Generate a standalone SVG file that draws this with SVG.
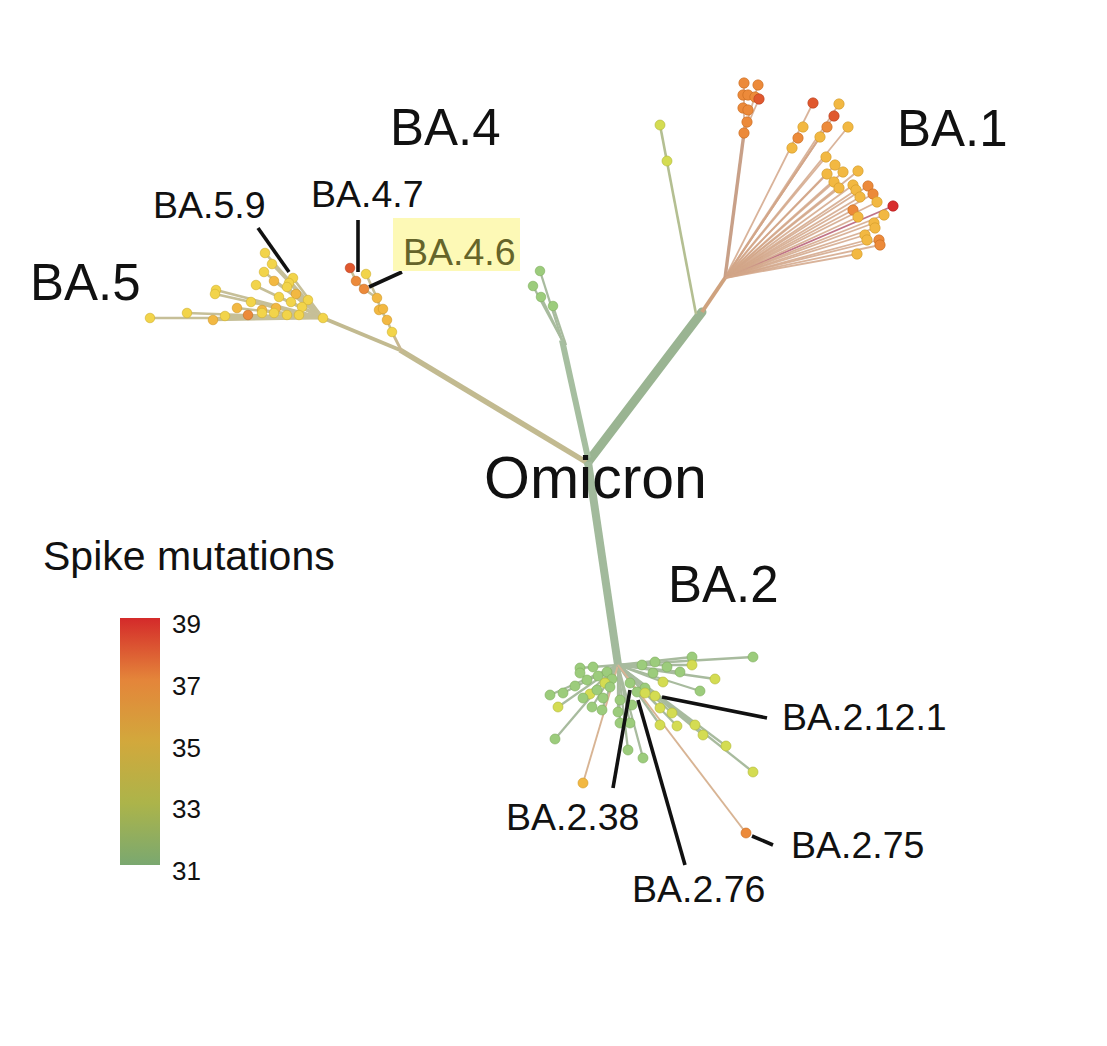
<svg xmlns="http://www.w3.org/2000/svg" width="1107" height="1046" viewBox="0 0 1107 1046">
<defs>
<linearGradient id="legendGrad" x1="0" y1="0" x2="0" y2="1">
<stop offset="0" stop-color="#d42a2a"/>
<stop offset="0.25" stop-color="#e4853a"/>
<stop offset="0.5" stop-color="#d2a83c"/>
<stop offset="0.75" stop-color="#acb44a"/>
<stop offset="1" stop-color="#7aa870"/>
</linearGradient>
<style>
text{font-family:"Liberation Sans",Arial,sans-serif;fill:#111}
.big{font-size:51px}
.omi{font-size:59px}
.lab{font-size:37.5px}
.leg{font-size:26px}
.tt{font-size:41px}
.b1{stroke:#d2a688;stroke-width:1.8;stroke-opacity:0.85;fill:none}
.b5{stroke:#c6bf98;stroke-width:2.6;fill:none}
.b2{stroke:#a8bb9e;stroke-width:2.3;fill:none}
.ldr{stroke:#111;stroke-width:3.6;fill:none}
circle{stroke-width:1;stroke-opacity:0.6}
.o{fill:#ec8a3a;stroke:#c86a20}
.y{fill:#f2b842;stroke:#d09a28}
.r{fill:#e0582e;stroke:#b84020}
.rd{fill:#d82e2e;stroke:#b01818}
.ye{fill:#f2d44a;stroke:#d0b030}
.g{fill:#9ccc7c;stroke:#7eae5e}
.yg{fill:#d4dc52;stroke:#b0b838}
</style>
</defs>
<rect width="1107" height="1046" fill="#ffffff"/>

<g id="connectors">
<line x1="588" y1="462" x2="702" y2="312" stroke="#9ab492" stroke-width="9" stroke-linecap="round"/>
<line x1="702" y1="312" x2="725" y2="278" stroke="#cfa27e" stroke-width="4"/>
<line x1="696" y1="314" x2="660" y2="125" stroke="#b4bf92" stroke-width="2.6"/>
<line x1="725" y1="278" x2="744" y2="133" stroke="#c8a088" stroke-width="3.4"/>
<line x1="744" y1="133" x2="744" y2="83" class="b1"/>
<line x1="744" y1="133" x2="758" y2="85" class="b1"/>
<line x1="744" y1="133" x2="759" y2="99" class="b1"/>
<line x1="586" y1="462" x2="400" y2="350" stroke="#c2ba90" stroke-width="5.5"/>
<line x1="400" y1="350" x2="323" y2="318" stroke="#c2ba90" stroke-width="4"/>
<line x1="402" y1="352" x2="392" y2="332" stroke="#c8b890" stroke-width="2.8"/>
<polyline points="392,332 387,320 381,310 377,298 364,289 356,281 350,268" class="b5"/>
<line x1="377" y1="298" x2="366" y2="274" class="b5"/>
<line x1="588" y1="458" x2="562" y2="340" stroke="#a6bea0" stroke-width="6"/>
<line x1="562" y1="340" x2="540" y2="271" class="b2" stroke-width="2.4"/>
<line x1="562" y1="340" x2="533" y2="286" class="b2" stroke-width="2.4"/>
<line x1="562" y1="340" x2="541" y2="297" class="b2" stroke-width="2.4"/>
<line x1="566" y1="345" x2="553" y2="306" class="b2" stroke-width="2.4"/>
<line x1="588" y1="462" x2="618" y2="665" stroke="#a2ba9c" stroke-width="8"/>

<g>
<line x1="725" y1="278" x2="813" y2="103" class="b1"/>
<line x1="725" y1="278" x2="839" y2="104" class="b1"/>
<line x1="725" y1="278" x2="834" y2="116" class="b1"/>
<line x1="725" y1="278" x2="848" y2="127" class="b1"/>
<line x1="725" y1="278" x2="827" y2="127" class="b1"/>
<line x1="725" y1="278" x2="820" y2="137" class="b1"/>
<line x1="725" y1="278" x2="826" y2="157" class="b1"/>
<line x1="725" y1="278" x2="835" y2="165" class="b1"/>
<line x1="725" y1="278" x2="827" y2="174" class="b1"/>
<line x1="725" y1="278" x2="843" y2="172" class="b1"/>
<line x1="725" y1="278" x2="858" y2="171" class="b1"/>
<line x1="725" y1="278" x2="834" y2="182" class="b1"/>
<line x1="725" y1="278" x2="839" y2="188" class="b1"/>
<line x1="725" y1="278" x2="853" y2="185" class="b1"/>
<line x1="725" y1="278" x2="868" y2="186" class="b1"/>
<line x1="725" y1="278" x2="856" y2="190" class="b1"/>
<line x1="725" y1="278" x2="873" y2="194" class="b1"/>
<line x1="725" y1="278" x2="860" y2="197" class="b1"/>
<line x1="725" y1="278" x2="877" y2="202" class="b1"/>
<line x1="725" y1="278" x2="893" y2="206" stroke="#c07488" stroke-width="1.8"/>
<line x1="725" y1="278" x2="853" y2="210" class="b1"/>
<line x1="725" y1="278" x2="858" y2="217" class="b1"/>
<line x1="725" y1="278" x2="884" y2="215" class="b1"/>
<line x1="725" y1="278" x2="874" y2="223" class="b1"/>
<line x1="725" y1="278" x2="875" y2="228" class="b1"/>
<line x1="725" y1="278" x2="865" y2="235" class="b1"/>
<line x1="725" y1="278" x2="879" y2="240" class="b1"/>
<line x1="725" y1="278" x2="867" y2="240" class="b1"/>
<line x1="725" y1="278" x2="880" y2="245" class="b1"/>
<line x1="725" y1="278" x2="857" y2="254" class="b1"/>
</g>

<g>
<line x1="323" y1="318" x2="265" y2="253" class="b5"/>
<line x1="323" y1="318" x2="272" y2="264" class="b5"/>
<line x1="323" y1="318" x2="264" y2="272" class="b5"/>
<line x1="323" y1="318" x2="274" y2="281" class="b5"/>
<line x1="323" y1="318" x2="293" y2="278" class="b5"/>
<line x1="323" y1="318" x2="289" y2="283" class="b5"/>
<line x1="323" y1="318" x2="256" y2="286" class="b5"/>
<line x1="323" y1="318" x2="287" y2="287" class="b5"/>
<line x1="323" y1="318" x2="296" y2="294" class="b5"/>
<line x1="323" y1="318" x2="279" y2="297" class="b5"/>
<line x1="323" y1="318" x2="216" y2="290" class="b5"/>
<line x1="323" y1="318" x2="215" y2="294" class="b5"/>
<line x1="323" y1="318" x2="308" y2="300" class="b5"/>
<line x1="323" y1="318" x2="291" y2="302" class="b5"/>
<line x1="323" y1="318" x2="251" y2="302" class="b5"/>
<line x1="323" y1="318" x2="302" y2="307" class="b5"/>
<line x1="323" y1="318" x2="237" y2="308" class="b5"/>
<line x1="323" y1="318" x2="262" y2="310" class="b5"/>
<line x1="323" y1="318" x2="276" y2="308" class="b5"/>
<line x1="323" y1="318" x2="248" y2="315" class="b5"/>
<line x1="323" y1="318" x2="274" y2="313" class="b5"/>
<line x1="323" y1="318" x2="287" y2="315" class="b5"/>
<line x1="323" y1="318" x2="299" y2="315" class="b5"/>
<line x1="323" y1="318" x2="225" y2="316" class="b5"/>
<line x1="323" y1="318" x2="213" y2="320" class="b5"/>
<line x1="323" y1="318" x2="187" y2="313" class="b5"/>
<line x1="323" y1="318" x2="150" y2="318" class="b5"/>
</g>

<g>
<line x1="618" y1="665" x2="753" y2="657" class="b2"/>
<line x1="618" y1="665" x2="692" y2="657" class="b2"/>
<line x1="618" y1="665" x2="692" y2="665" class="b2"/>
<line x1="618" y1="665" x2="715" y2="679" class="b2"/>
<line x1="618" y1="665" x2="700" y2="691" class="b2"/>
<line x1="618" y1="665" x2="680" y2="672" class="b2"/>
<line x1="618" y1="665" x2="663" y2="682" class="b2"/>
<line x1="618" y1="665" x2="645" y2="688" class="b2"/>
<line x1="618" y1="665" x2="580" y2="668" class="b2"/>
<line x1="618" y1="665" x2="587" y2="680" class="b2"/>
<line x1="618" y1="665" x2="550" y2="695" class="b2"/>
<line x1="618" y1="665" x2="563" y2="693" class="b2"/>
<line x1="618" y1="665" x2="558" y2="707" class="b2"/>
<line x1="618" y1="665" x2="583" y2="698" class="b2"/>
<line x1="618" y1="665" x2="592" y2="707" class="b2"/>
<line x1="618" y1="665" x2="602" y2="710" class="b2"/>
<line x1="618" y1="665" x2="618" y2="712" class="b2"/>
<line x1="618" y1="665" x2="620" y2="723" class="b2"/>
<line x1="618" y1="665" x2="630" y2="723" class="b2"/>
<line x1="618" y1="665" x2="628" y2="750" class="b2"/>
<line x1="618" y1="665" x2="643" y2="758" class="b2"/>
<line x1="618" y1="665" x2="555" y2="739" class="b2"/>
<line x1="618" y1="665" x2="583" y2="783" stroke="#d8b494" stroke-width="1.9"/>
<line x1="618" y1="665" x2="660" y2="708" class="b2"/>
<line x1="618" y1="665" x2="672" y2="713" class="b2"/>
<line x1="618" y1="665" x2="660" y2="725" class="b2"/>
<line x1="618" y1="665" x2="677" y2="726" class="b2"/>
<line x1="618" y1="665" x2="695" y2="725" class="b2"/>
<line x1="618" y1="665" x2="703" y2="735" class="b2"/>
<line x1="618" y1="665" x2="726" y2="746" class="b2"/>
<line x1="618" y1="665" x2="753" y2="772" class="b2"/>
<line x1="618" y1="665" x2="746" y2="833" stroke="#d8b494" stroke-width="1.9"/>
</g>
</g>

<g id="clade-ba1-tips">
<circle cx="660" cy="125" r="5" class="yg"/>
<circle cx="667" cy="161" r="5" class="yg"/>
<circle cx="744" cy="83" r="5.2" class="o"/>
<circle cx="758" cy="85" r="5.2" class="o"/>
<circle cx="743" cy="95" r="5.2" class="o"/>
<circle cx="748" cy="95" r="5.2" class="o"/>
<circle cx="755" cy="97" r="5.2" class="o"/>
<circle cx="759" cy="99" r="5.2" class="r"/>
<circle cx="743" cy="108" r="5.2" class="o"/>
<circle cx="748" cy="110" r="5.2" class="o"/>
<circle cx="747" cy="122" r="5.2" class="o"/>
<circle cx="744" cy="133" r="5.2" class="o"/>
<circle cx="813" cy="103" r="5.2" class="r"/>
<circle cx="839" cy="104" r="5.2" class="y"/>
<circle cx="834" cy="116" r="5.2" class="r"/>
<circle cx="848" cy="127" r="5.2" class="y"/>
<circle cx="803" cy="127" r="5.2" class="y"/>
<circle cx="827" cy="127" r="5.2" class="o"/>
<circle cx="798" cy="138" r="5.2" class="o"/>
<circle cx="820" cy="137" r="5.2" class="y"/>
<circle cx="792" cy="148" r="5.2" class="y"/>
<circle cx="826" cy="157" r="5.2" class="y"/>
<circle cx="835" cy="165" r="5.2" class="y"/>
<circle cx="827" cy="174" r="5.2" class="y"/>
<circle cx="843" cy="172" r="5.2" class="y"/>
<circle cx="858" cy="171" r="5.2" class="y"/>
<circle cx="834" cy="182" r="5.2" class="y"/>
<circle cx="839" cy="188" r="5.2" class="y"/>
<circle cx="853" cy="185" r="5.2" class="y"/>
<circle cx="868" cy="186" r="5.2" class="o"/>
<circle cx="856" cy="190" r="5.2" class="y"/>
<circle cx="873" cy="194" r="5.2" class="o"/>
<circle cx="860" cy="197" r="5.2" class="y"/>
<circle cx="877" cy="202" r="5.2" class="y"/>
<circle cx="893" cy="206" r="5.2" class="rd"/>
<circle cx="853" cy="210" r="5.2" class="o"/>
<circle cx="858" cy="217" r="5.2" class="y"/>
<circle cx="884" cy="215" r="5.2" class="y"/>
<circle cx="874" cy="223" r="5.2" class="y"/>
<circle cx="875" cy="228" r="5.2" class="y"/>
<circle cx="865" cy="235" r="5.2" class="y"/>
<circle cx="879" cy="240" r="5.2" class="o"/>
<circle cx="867" cy="240" r="5.2" class="y"/>
<circle cx="880" cy="245" r="5.2" class="o"/>
<circle cx="857" cy="254" r="5.2" class="y"/>
</g>

<g id="clade-ba4-tips">
<circle cx="350" cy="268" r="4.8" class="r"/>
<circle cx="366" cy="274" r="4.8" class="ye"/>
<circle cx="356" cy="281" r="4.8" class="o"/>
<circle cx="364" cy="289" r="4.8" class="o"/>
<circle cx="377" cy="298" r="4.8" class="y"/>
<circle cx="379" cy="310" r="4.8" class="y"/>
<circle cx="383" cy="309" r="4.8" class="y"/>
<circle cx="387" cy="320" r="4.8" class="y"/>
<circle cx="392" cy="332" r="4.8" class="ye"/>
</g>

<g id="clade-ba5-tips">
<circle cx="265" cy="253" r="4.8" class="ye"/>
<circle cx="272" cy="264" r="4.8" class="ye"/>
<circle cx="264" cy="272" r="4.8" class="ye"/>
<circle cx="274" cy="281" r="4.8" class="y"/>
<circle cx="293" cy="278" r="4.8" class="ye"/>
<circle cx="289" cy="283" r="4.8" class="ye"/>
<circle cx="256" cy="285" r="4.8" class="ye"/>
<circle cx="287" cy="287" r="4.8" class="ye"/>
<circle cx="296" cy="294" r="4.8" class="y"/>
<circle cx="279" cy="297" r="4.8" class="ye"/>
<circle cx="216" cy="290" r="4.8" class="ye"/>
<circle cx="215" cy="294" r="4.8" class="ye"/>
<circle cx="308" cy="300" r="4.8" class="ye"/>
<circle cx="291" cy="302" r="4.8" class="ye"/>
<circle cx="251" cy="302" r="4.8" class="ye"/>
<circle cx="302" cy="307" r="4.8" class="ye"/>
<circle cx="237" cy="308" r="4.8" class="y"/>
<circle cx="262" cy="310" r="4.8" class="y"/>
<circle cx="276" cy="308" r="4.8" class="y"/>
<circle cx="248" cy="315" r="4.8" class="o"/>
<circle cx="262" cy="313" r="4.8" class="ye"/>
<circle cx="274" cy="313" r="4.8" class="ye"/>
<circle cx="287" cy="315" r="4.8" class="ye"/>
<circle cx="299" cy="315" r="4.8" class="ye"/>
<circle cx="225" cy="316" r="4.8" class="ye"/>
<circle cx="213" cy="320" r="4.8" class="y"/>
<circle cx="187" cy="313" r="4.8" class="ye"/>
<circle cx="150" cy="318" r="4.8" class="ye"/>
<circle cx="323" cy="318" r="4.8" class="ye"/>
</g>

<g id="clade-mid-tips">
<circle cx="540" cy="271" r="4.8" class="g"/>
<circle cx="533" cy="286" r="4.8" class="g"/>
<circle cx="541" cy="297" r="4.8" class="g"/>
<circle cx="553" cy="306" r="4.8" class="g"/>
</g>

<g id="clade-ba2-tips">
<circle cx="753" cy="657" r="5" class="g"/>
<circle cx="692" cy="657" r="5" class="g"/>
<circle cx="692" cy="665" r="5" class="yg"/>
<circle cx="655" cy="662" r="5" class="g"/>
<circle cx="642" cy="665" r="5" class="g"/>
<circle cx="667" cy="667" r="5" class="g"/>
<circle cx="680" cy="672" r="5" class="g"/>
<circle cx="653" cy="673" r="5" class="g"/>
<circle cx="715" cy="679" r="5" class="yg"/>
<circle cx="700" cy="691" r="5" class="g"/>
<circle cx="663" cy="682" r="5" class="yg"/>
<circle cx="645" cy="688" r="5" class="g"/>
<circle cx="630" cy="683" r="5" class="g"/>
<circle cx="607" cy="672" r="5" class="g"/>
<circle cx="593" cy="667" r="5" class="g"/>
<circle cx="580" cy="668" r="5" class="g"/>
<circle cx="598" cy="676" r="5" class="g"/>
<circle cx="612" cy="679" r="5" class="g"/>
<circle cx="575" cy="686" r="5" class="g"/>
<circle cx="590" cy="694" r="5" class="yg"/>
<circle cx="605" cy="683" r="5" class="yg"/>
<circle cx="587" cy="680" r="5" class="g"/>
<circle cx="580" cy="673" r="5" class="g"/>
<circle cx="550" cy="695" r="5" class="g"/>
<circle cx="563" cy="693" r="5" class="g"/>
<circle cx="558" cy="707" r="5" class="yg"/>
<circle cx="583" cy="698" r="5" class="g"/>
<circle cx="597" cy="690" r="5" class="g"/>
<circle cx="603" cy="698" r="5" class="g"/>
<circle cx="592" cy="707" r="5" class="g"/>
<circle cx="602" cy="710" r="5" class="g"/>
<circle cx="620" cy="700" r="5" class="g"/>
<circle cx="618" cy="712" r="5" class="g"/>
<circle cx="620" cy="723" r="5" class="g"/>
<circle cx="630" cy="723" r="5" class="g"/>
<circle cx="628" cy="750" r="5" class="g"/>
<circle cx="643" cy="758" r="5" class="g"/>
<circle cx="555" cy="739" r="5" class="g"/>
<circle cx="583" cy="783" r="5" class="y"/>
<circle cx="637" cy="692" r="5" class="g"/>
<circle cx="645" cy="693" r="5" class="yg"/>
<circle cx="655" cy="696" r="5" class="yg"/>
<circle cx="610" cy="687" r="5" class="g"/>
<circle cx="632" cy="705" r="5" class="g"/>
<circle cx="660" cy="708" r="5" class="yg"/>
<circle cx="672" cy="713" r="5" class="yg"/>
<circle cx="660" cy="725" r="5" class="yg"/>
<circle cx="677" cy="726" r="5" class="yg"/>
<circle cx="695" cy="725" r="5" class="yg"/>
<circle cx="703" cy="735" r="5" class="yg"/>
<circle cx="726" cy="746" r="5" class="yg"/>
<circle cx="753" cy="772" r="5" class="yg"/>
<circle cx="746" cy="833" r="5" class="o"/>
</g>

<g id="leaders">
<line x1="258" y1="228" x2="289" y2="272" class="ldr"/>
<line x1="358" y1="220" x2="358" y2="272" class="ldr"/>
<line x1="402" y1="272" x2="369" y2="287" class="ldr"/>
<line x1="630" y1="690" x2="613" y2="788" class="ldr"/>
<line x1="638" y1="700" x2="685" y2="865" class="ldr"/>
<line x1="662" y1="697" x2="767" y2="718" class="ldr"/>
<line x1="752" y1="836" x2="773" y2="845" class="ldr"/>
</g>

<g id="labels">
<text x="390" y="145" class="big">BA.4</text>
<text x="897" y="146" class="big">BA.1</text>
<text x="30" y="300" class="big">BA.5</text>
<text x="668" y="602" class="big">BA.2</text>
<text x="484" y="498" class="omi">Omicron</text>
<text x="153" y="218" class="lab">BA.5.9</text>
<text x="311" y="207" class="lab">BA.4.7</text>
<rect x="393" y="218" width="127" height="53" fill="#fdf9b6"/>
<text x="403" y="265" class="lab" style="fill:#65642a">BA.4.6</text>
<text x="782" y="730" class="lab">BA.2.12.1</text>
<text x="506" y="830" class="lab">BA.2.38</text>
<text x="632" y="902" class="lab">BA.2.76</text>
<text x="791" y="858" class="lab">BA.2.75</text>
</g>

<g id="legend">
<text x="43" y="570" class="tt">Spike mutations</text>
<rect x="120" y="618" width="40" height="247" fill="url(#legendGrad)"/>
<text x="172" y="633" class="leg">39</text>
<text x="172" y="695" class="leg">37</text>
<text x="172" y="757" class="leg">35</text>
<text x="172" y="818" class="leg">33</text>
<text x="172" y="880" class="leg">31</text>
</g>
</svg>
